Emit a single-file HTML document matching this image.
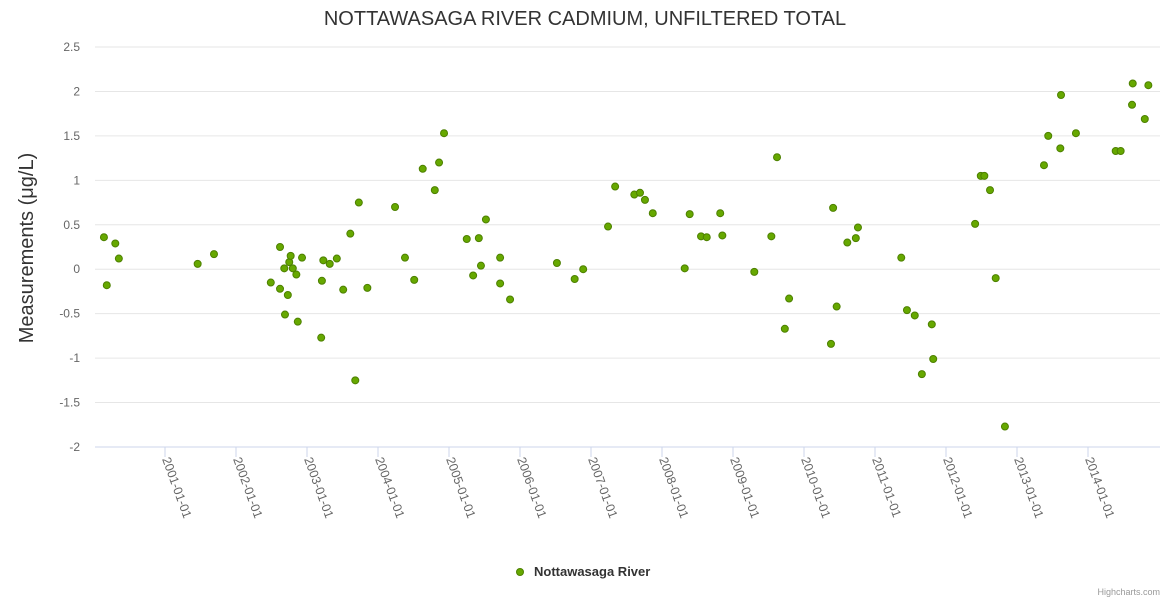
<!DOCTYPE html>
<html><head><meta charset="utf-8"><style>
body{margin:0;background:#fff;font-family:"Liberation Sans",Arial,sans-serif}
svg text{font-family:"Liberation Sans",Arial,sans-serif}
</style></head><body>
<svg id="chart" width="1170" height="600">
<rect width="1170" height="600" fill="#fff"/>
<text x="585" y="25" text-anchor="middle" font-size="20" fill="#333">NOTTAWASAGA RIVER CADMIUM, UNFILTERED TOTAL</text>
<text transform="translate(33,248) rotate(-90)" text-anchor="middle" font-size="20" fill="#333">Measurements (μg/L)</text>
<g id="grid"></g><g id="xaxis"></g><g id="pts"></g>
<g>
<circle cx="520" cy="572" r="3.5" fill="#66a800" stroke="#4d8000" stroke-width="1"/>
<text x="534" y="576" font-size="13" font-weight="bold" fill="#333">Nottawasaga River</text>
</g>
<text x="1160" y="595" text-anchor="end" font-size="9" fill="#999">Highcharts.com</text>
</svg>
<script>
const yTicks=[2.5,2,1.5,1,0.5,0,-0.5,-1,-1.5,-2];
const xTickYears=[2001,2002,2003,2004,2005,2006,2007,2008,2009,2010,2011,2012,2013,2014];
const dates=[2000.14,2000.18,2000.30,2000.35,2001.46,2001.69,2002.49,2002.62,2002.62,2002.68,2002.69,2002.73,2002.75,2002.77,2002.80,2002.85,2002.87,2002.93,2003.20,2003.21,2003.23,2003.32,2003.42,2003.51,2003.61,2003.68,2003.73,2003.85,2004.24,2004.38,2004.51,2004.63,2004.80,2004.86,2004.93,2005.25,2005.34,2005.42,2005.45,2005.52,2005.72,2005.72,2005.86,2006.52,2006.77,2006.89,2007.24,2007.34,2007.61,2007.69,2007.76,2007.87,2008.32,2008.39,2008.55,2008.63,2008.82,2008.85,2009.30,2009.54,2009.62,2009.73,2009.79,2010.38,2010.41,2010.46,2010.61,2010.73,2010.76,2011.37,2011.45,2011.56,2011.66,2011.80,2011.82,2012.41,2012.49,2012.54,2012.62,2012.70,2012.83,2013.38,2013.44,2013.61,2013.62,2013.83,2014.39,2014.46,2014.62,2014.63,2014.80,2014.85];
const values=[0.36,-0.18,0.29,0.12,0.06,0.17,-0.15,0.25,-0.22,0.01,-0.51,-0.29,0.08,0.15,0.01,-0.06,-0.59,0.13,-0.77,-0.13,0.10,0.06,0.12,-0.23,0.40,-1.25,0.75,-0.21,0.70,0.13,-0.12,1.13,0.89,1.20,1.53,0.34,-0.07,0.35,0.04,0.56,0.13,-0.16,-0.34,0.07,-0.11,0.0,0.48,0.93,0.84,0.86,0.78,0.63,0.01,0.62,0.37,0.36,0.63,0.38,-0.03,0.37,1.26,-0.67,-0.33,-0.84,0.69,-0.42,0.30,0.35,0.47,0.13,-0.46,-0.52,-1.18,-0.62,-1.01,0.51,1.05,1.05,0.89,-0.10,-1.77,1.17,1.50,1.36,1.96,1.53,1.33,1.33,1.85,2.09,1.69,2.07];
const NS="http://www.w3.org/2000/svg";
const X0=95,X1=1160,Y0=47,Y1=447;
function xs(yr){return 165+(yr-2001)*71;}
function ys(v){return Y1-(v+2)/4.5*(Y1-Y0);}
function mk(t,a,p){const e=document.createElementNS(NS,t);for(const k in a)e.setAttribute(k,a[k]);p.appendChild(e);return e;}
const grid=document.getElementById('grid');
yTicks.forEach(v=>{
  const l=mk('line',{x1:X0,x2:X1,y1:ys(v),y2:ys(v),stroke:v===-2?'#ccd6eb':'#e6e6e6','stroke-width':1},grid);
  
  
  const t=mk('text',{x:80,y:ys(v)+4,'text-anchor':'end','font-size':12,fill:'#666'},grid);
  t.textContent=v.toString();
  
  
});
const xa=document.getElementById('xaxis');
xTickYears.forEach(y=>{
  const x=xs(y);
  const tk=mk('line',{x1:x,x2:x,y1:Y1,y2:Y1+10,stroke:'#ccd6eb'},xa);
  
  
  const t=mk('text',{transform:`translate(${x-3},${Y1+12}) rotate(70)`,'font-size':12.5,fill:'#666'},xa);
  t.textContent=y+'-01-01';
  
  
});
const pts=document.getElementById('pts');
dates.forEach((d,i)=>{
  const c=mk('circle',{cx:xs(d),cy:ys(values[i]),r:3.5,fill:'#66a800',stroke:'#4d8000','stroke-width':1},pts);
  
  
});
</script>
</body></html>
